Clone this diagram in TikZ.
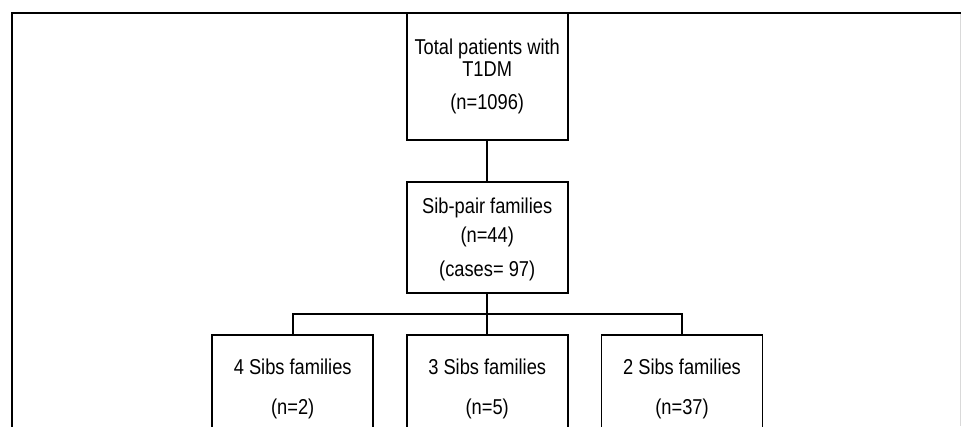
\documentclass[tikz,border=0pt]{standalone}
\usepackage{fontspec}
\setmainfont{Liberation Sans}[FakeStretch=0.85]
\begin{document}
\begin{tikzpicture}[x=1pt,y=-1pt,
  box/.style={draw=black,line width=1.8pt,rectangle,inner sep=0pt,minimum width=161pt},
  txt/.style={anchor=base,inner sep=0pt,font=\fontsize{21.5pt}{25pt}\selectfont,text=black},
  conn/.style={draw=black,line width=1.8pt}]
\clip (0,0) rectangle (961,426);
\fill[white] (0,0) rectangle (961,426);
% frame
\draw[line width=2.2pt] (12,427) -- (12,13) -- (962,13);
\draw[black!15,line width=0.8pt] (960,14) -- (960,426);
% boxes
\node[box,minimum height=127pt] (total) at (487.2,76.5) {};
\node[box,minimum height=110.7pt] (sib) at (487.2,237.35) {};
\node[box,minimum height=110.3pt] (four) at (292.7,389.85) {};
\node[box,minimum height=110.3pt] (three) at (487.2,389.85) {};
\node[box,minimum height=110.3pt] (two) at (682,389.85) {};
% texts
\node[txt] (t1) at (487.2,54.3) {Total patients with};
\node[txt] (t2) at (487.2,76.7) {T1DM};
\node[txt] (t3) at (487.2,109) {(n=1096)};
\node[txt] (s1) at (487.2,213) {Sib-pair families};
\node[txt] (s2) at (487.2,242) {(n=44)};
\node[txt] (s3) at (487.2,276) {(cases= 97)};
\node[txt] (f1) at (292.7,374) {4 Sibs families};
\node[txt] (f2) at (292.7,414) {(n=2)};
\node[txt] (h1) at (487.2,374) {3 Sibs families};
\node[txt] (h2) at (487.2,414) {(n=5)};
\node[txt] (w1) at (682,374) {2 Sibs families};
\node[txt] (w2) at (682,414) {(n=37)};
% connectors
\coordinate (bus) at (487.2,314);
\draw[conn] (total.south) -- (sib.north);
\draw[conn] (sib.south) -- (three.north);
\draw[conn] (four.north) |- (bus) -| (two.north);
\end{tikzpicture}
\end{document}
